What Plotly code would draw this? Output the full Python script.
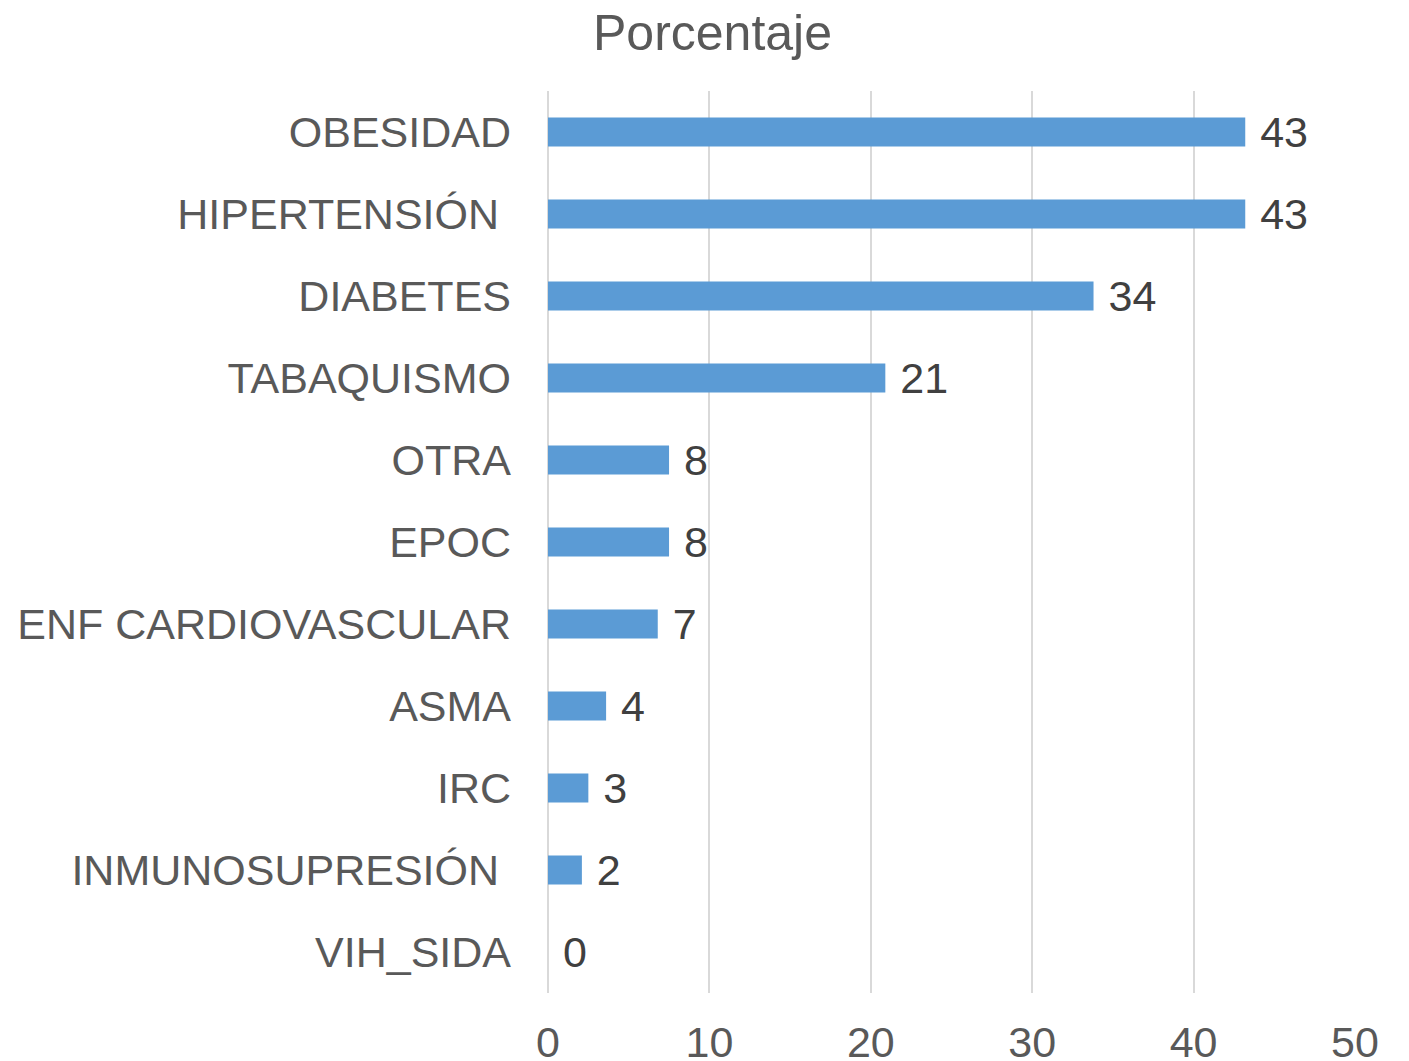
import plotly.graph_objects as go

categories = ["OBESIDAD", "HIPERTENSIÓN\u00a0", "DIABETES", "TABAQUISMO", "OTRA", "EPOC",
              "ENF CARDIOVASCULAR", "ASMA", "IRC", "INMUNOSUPRESIÓN\u00a0", "VIH_SIDA"]
values = [43.2, 43.2, 33.8, 20.9, 7.5, 7.5, 6.8, 3.6, 2.5, 2.1, 0]
labels = ["43", "43", "34", "21", "8", "8", "7", "4", "3", "2", "0"]
x_ticks = [0, 10, 20, 30, 40, 50]
title_text = "Porcentaje"

FONT = "Liberation Sans, Arial, sans-serif"

fig = go.Figure(go.Bar(
    x=values, y=categories, orientation="h",
    marker=dict(color="#5b9bd5", line=dict(width=0)),
    text=["\u00a0" + t for t in labels], textposition="outside",
    textfont=dict(family=FONT, size=43, color="#404040"),
    constraintext="none", cliponaxis=False,
))

fig.update_layout(
    width=1409, height=1061,
    paper_bgcolor="white", plot_bgcolor="white",
    margin=dict(l=540, r=62, t=83, b=76),
    bargap=0.646,
    showlegend=False,
    title=dict(text=title_text, x=0.5, xanchor="center", y=0.977, yanchor="middle",
               font=dict(family=FONT, size=50, color="#595959")),
    xaxis=dict(range=[0, 50], tickvals=x_ticks, showgrid=True, gridcolor="#d9d9d9", gridwidth=2,
               zeroline=True, zerolinecolor="#d9d9d9", zerolinewidth=2, showline=False,
               ticks="", tickfont=dict(family=FONT, size=43, color="#595959"),
               ticklabelstandoff=20, automargin=False, fixedrange=True),
    yaxis=dict(autorange="reversed", showgrid=False, showline=False, ticks="",
               tickfont=dict(family=FONT, size=43, color="#595959"),
               ticklabelstandoff=36, automargin=False),
)

fig.write_html("out.html")
